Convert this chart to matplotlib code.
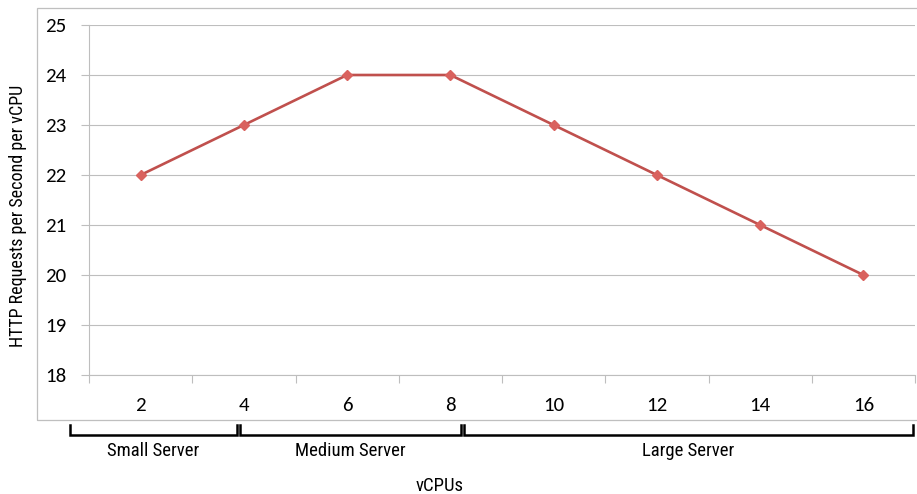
import matplotlib
matplotlib.use("Agg")
import matplotlib.pyplot as plt
from matplotlib.lines import Line2D
from matplotlib.patches import Rectangle
from matplotlib import font_manager

# Data
vcpus = ["2", "4", "6", "8", "10", "12", "14", "16"]
requests_per_vcpu = [22, 23, 24, 24, 23, 22, 21, 20]
y_ticks = [18, 19, 20, 21, 22, 23, 24, 25]
server_groups = ["Small Server", "Medium Server", "Large Server"]

W, H = 917, 494
fig = plt.figure(figsize=(W / 100, H / 100), dpi=100)

# Pick a narrow face for the axis titles and group labels, a Calibri-like one for ticks
names = {f.name for f in font_manager.fontManager.ttflist}
candidates = ["Liberation Sans Narrow", "Roboto Condensed", "Open Sans Condensed",
              "Noto Sans Condensed", "DejaVu Sans Condensed", "Noto Sans Display"]
narrow = next((c for c in candidates if c in names), "DejaVu Sans")
tick_font = next((c for c in ["Carlito", "Open Sans"] if c in names), "DejaVu Sans")
tick_size = 15 if tick_font == "Carlito" else 13

def fx(px):
    return px / W

def fy(py):
    return 1 - py / H

# Outer chart frame
fig.patches.append(Rectangle((fx(37), fy(420)), fx(960) - fx(37), fy(8) - fy(420),
                             transform=fig.transFigure, fill=False,
                             edgecolor="#BFBFBF", linewidth=0.9))

ax = fig.add_axes([fx(89), fy(375), fx(915) - fx(89), fy(25) - fy(375)])
x = list(range(len(vcpus)))
ax.plot(x, requests_per_vcpu, color="#C0504D", linewidth=1.9, zorder=3,
        marker="D", markersize=5.5, markerfacecolor="#D9625E",
        markeredgecolor="#D9625E")

ax.set_xlim(-0.5, len(vcpus) - 0.5)
ax.set_ylim(18, 25)
ax.set_yticks(y_ticks)
ax.set_yticklabels([str(v) for v in y_ticks], fontfamily=tick_font, fontsize=tick_size)
ax.yaxis.grid(True, color="#BEBEBE", linewidth=0.8)
ax.set_axisbelow(True)

# Boundary ticks between categories, labels at the category centres
ax.set_xticks([i - 0.5 for i in range(len(vcpus) + 1)])
ax.set_xticklabels([])
ax.set_xticks(x, minor=True)
ax.set_xticklabels(vcpus, minor=True, fontfamily=tick_font, fontsize=tick_size)
ax.tick_params(axis="x", which="major", length=5.5, color="#BEBEBE", width=0.8)
ax.tick_params(axis="x", which="minor", length=0, pad=16)
ax.tick_params(axis="y", length=5.5, color="#BEBEBE", width=0.8, pad=11)

for side in ("top", "right"):
    ax.spines[side].set_visible(False)
for side in ("left", "bottom"):
    ax.spines[side].set_color("#BEBEBE")
    ax.spines[side].set_linewidth(0.8)

# Server-size brackets under the axis
brackets = [(70, 237), (240, 461), (464, 913)]
for (x0, x1), name in zip(brackets, server_groups):
    fig.add_artist(Line2D([fx(x0), fx(x0), fx(x1), fx(x1)],
                          [fy(425), fy(435), fy(435), fy(425)],
                          transform=fig.transFigure, color="black",
                          linewidth=1.8, solid_joinstyle="miter"))
    fig.text(fx((x0 + x1) / 2), fy(451), name, ha="center", va="center",
             fontfamily=narrow, fontsize=13.5, fontstretch="condensed")

fig.text(fx(440), fy(486), "vCPUs", ha="center", va="center",
         fontfamily=narrow, fontsize=13.5, fontstretch="condensed")
fig.text(fx(18), fy(216), "HTTP Requests per Second per vCPU", rotation=90,
         ha="center", va="center", fontfamily=narrow, fontsize=13,
         fontstretch="condensed")

fig.savefig("out.png", dpi=100, facecolor="white")
